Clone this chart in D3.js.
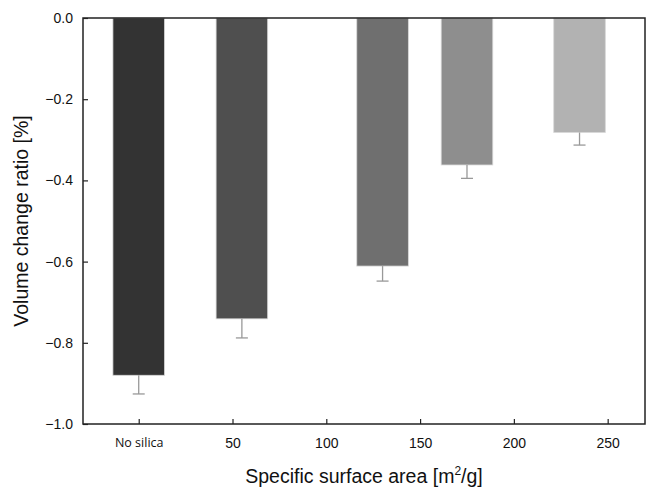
<!DOCTYPE html>
<html>
<head>
<meta charset="utf-8">
<script src="https://cdn.jsdelivr.net/npm/d3@7"></script>
<style>
  body { margin: 0; background: #fff; }
  svg { display: block; }
</style>
</head>
<body>
<svg id="chart" width="650" height="488"></svg>
<script>
// Data
const categories = ["No silica", "~55", "~130", "~175", "~235"];
const surfaceArea = [0, 55, 130, 175, 235];
const values = [-0.880, -0.741, -0.611, -0.362, -0.282];
const errors = [0.046, 0.047, 0.037, 0.033, 0.031];
const barColors = ["#333333", "#4f4f4f", "#6f6f6f", "#8e8e8e", "#b2b2b2"];
const xTickValues = [0, 50, 100, 150, 200, 250];
const xTickLabels = ["No silica", "50", "100", "150", "200", "250"];
const yTickValues = [0, -0.2, -0.4, -0.6, -0.8, -1.0];

const svg = d3.select("#chart");
const margin = { left: 83, right: 5, top: 18, bottom: 64 };
const W = 650, H = 488;
const x = d3.scaleLinear().domain([-29.7, 269.9]).range([margin.left, W - margin.right]);
const y = d3.scaleLinear().domain([0, -1]).range([margin.top, H - margin.bottom]);
const barW = 27.5; // in data units

// bars
svg.append("g").selectAll("rect").data(values).join("rect")
  .attr("x", (d, i) => x(surfaceArea[i] - barW / 2))
  .attr("width", (d, i) => x(surfaceArea[i] + barW / 2) - x(surfaceArea[i] - barW / 2))
  .attr("y", y(0))
  .attr("height", d => y(d) - y(0))
  .attr("fill", (d, i) => barColors[i])
  .attr("stroke", "#d8d8d8")
  .attr("stroke-width", 0.8);

// error bars
const eg = svg.append("g").attr("stroke", "#999").attr("stroke-width", 1.3);
values.forEach((v, i) => {
  const cx = x(surfaceArea[i]);
  eg.append("line").attr("x1", cx).attr("x2", cx).attr("y1", y(v)).attr("y2", y(v - errors[i]));
  eg.append("line").attr("x1", cx - 6).attr("x2", cx + 6).attr("y1", y(v - errors[i])).attr("y2", y(v - errors[i]));
});

// axes
const xAxis = d3.axisBottom(x).tickValues(xTickValues)
  .tickFormat((d, i) => xTickLabels[i]).tickSizeInner(-5).tickSizeOuter(0).tickPadding(14);
const gx = svg.append("g").attr("transform", `translate(0,${y(-1)})`).call(xAxis);
gx.select(".domain").remove();
gx.selectAll("line").attr("stroke", "#222").attr("stroke-width", 1.2);
gx.selectAll("text").attr("font-family", "Liberation Sans, Arial, sans-serif")
  .attr("font-size", 14).attr("fill", "#111");
gx.selectAll("text").filter((d, i) => i === 0)
  .attr("font-family", "Open Sans, sans-serif").attr("font-size", 12.5);

const yAxis = d3.axisLeft(y).tickValues(yTickValues).tickFormat(d3.format(".1f"))
  .tickSizeInner(-5).tickSizeOuter(0).tickPadding(10);
const gy = svg.append("g").attr("transform", `translate(${x.range()[0]},0)`).call(yAxis);
gy.select(".domain").remove();
gy.selectAll("line").attr("stroke", "#222").attr("stroke-width", 1.2);
gy.selectAll("text").attr("font-family", "Liberation Sans, Arial, sans-serif")
  .attr("font-size", 14).attr("fill", "#111");
gy.selectAll("text").text(d => d === 0 ? "0.0" : d3.format(".1f")(d));

// frame
svg.append("rect")
  .attr("x", x.range()[0]).attr("y", y(0))
  .attr("width", x.range()[1] - x.range()[0]).attr("height", y(-1) - y(0))
  .attr("fill", "none").attr("stroke", "#222").attr("stroke-width", 1.5);

// titles
const xt = svg.append("text")
  .attr("x", 364).attr("y", 483)
  .attr("text-anchor", "middle")
  .attr("font-family", "Liberation Sans, Arial, sans-serif").attr("font-size", 19.5).attr("fill", "#111");
xt.append("tspan").text("Specific surface area [m");
xt.append("tspan").text("2").attr("font-size", 12).attr("dy", -8);
xt.append("tspan").text("/g]").attr("dy", 8);

svg.append("text")
  .attr("transform", `translate(28,${(y(0) + y(-1)) / 2}) rotate(-90)`)
  .attr("text-anchor", "middle")
  .attr("font-family", "Liberation Sans, Arial, sans-serif").attr("font-size", 19.5).attr("fill", "#111")
  .text("Volume change ratio [%]");
</script>
</body>
</html>
